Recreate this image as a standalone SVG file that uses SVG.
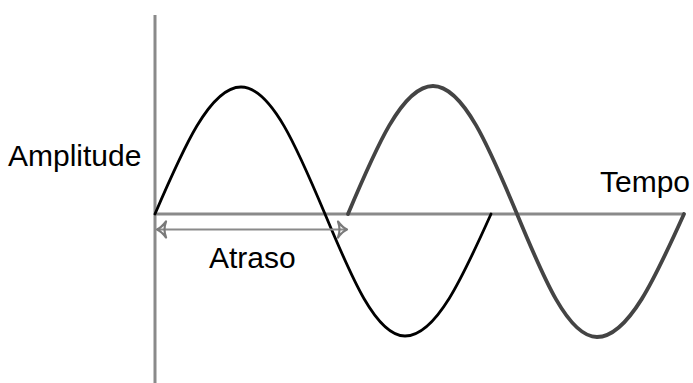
<svg xmlns="http://www.w3.org/2000/svg" width="693" height="383" viewBox="0 0 693 383">
<defs>
<style>
.axis{stroke:#8a8a8a;stroke-width:3;fill:none}
.w1{stroke:#000;stroke-width:2.8;fill:none;stroke-linecap:round}
.w2{stroke:#444;stroke-width:3.8;fill:none;stroke-linecap:round}
.arr{stroke:#8a8a8a;stroke-width:2;fill:none}
.lbl{font-family:"Liberation Sans",Arial,sans-serif;font-size:30px;fill:#000}
</style>
<marker id="ah" viewBox="0 0 14 20" refX="11.5" refY="10" markerWidth="14" markerHeight="20" markerUnits="userSpaceOnUse" orient="auto-start-reverse">
<path d="M2.5,2 Q7,8 11.5,10 Q7,12 2.5,18 Q5.5,10 2.5,2 Z" stroke="#7a7a7a" stroke-width="2.2" fill="none" stroke-linejoin="round"/>
</marker>
</defs>
<g id="axes">
<line class="axis" x1="155" y1="15" x2="155" y2="383"/>
<line class="axis" x1="155" y1="214" x2="684" y2="214"/>
</g>
<g id="waves">
<path id="wave1" class="w1" d="M155,214 C183,148.9 209.9,87 241,87 C271.4,87 297.6,148.9 325,214 C351.1,276.5 376,336 405,336 C436.1,336 463,276.5 491,214"/>
<path id="wave2" class="w2" d="M348,214 C375.7,148.4 402.2,86 433,86 C463.4,86 489.6,148.4 517,214 C543.1,277 568,337 597,337 C628.5,337 655.6,277 684,214"/>
</g>
<g id="connectors">
<line class="arr" x1="157" y1="229.5" x2="347" y2="229.5" marker-start="url(#ah)" marker-end="url(#ah)"/>
</g>
<g id="labels">
<text class="lbl" x="8" y="166">Amplitude</text>
<text class="lbl" x="600" y="192">Tempo</text>
<text class="lbl" x="209" y="268">Atraso</text>
</g>
</svg>
